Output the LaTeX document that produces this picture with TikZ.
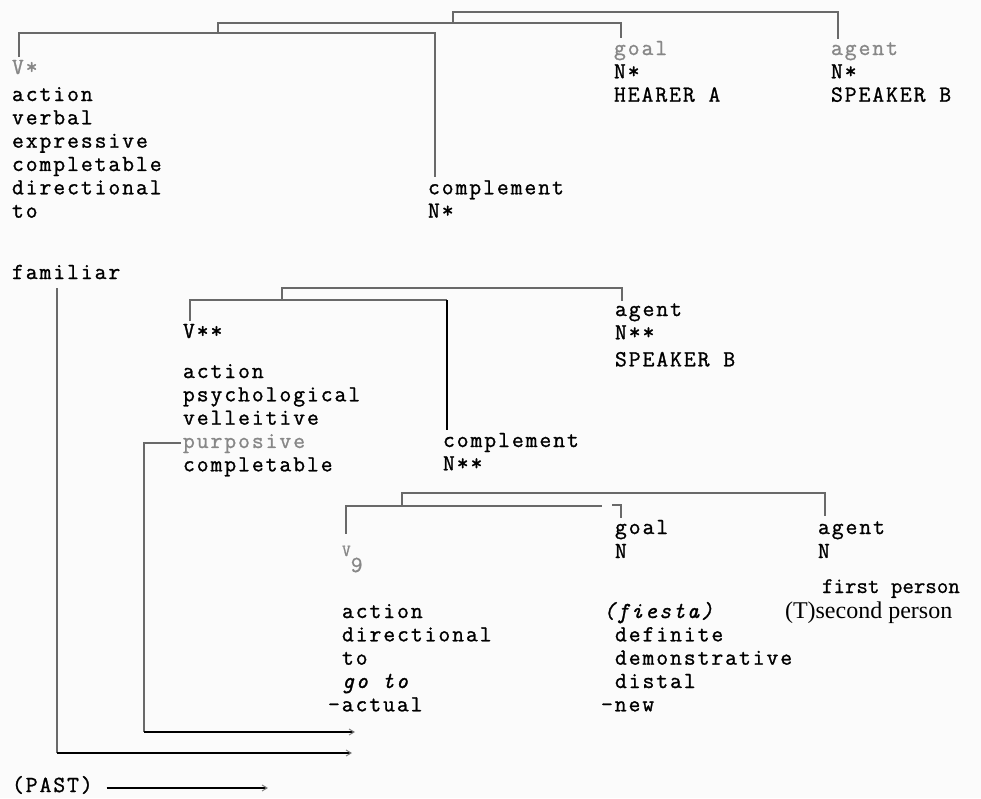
\documentclass[tikz,border=0pt]{standalone}
\usepackage{fontspec}
\newfontfamily\twfont{Latin Modern Mono}[FakeBold=1.1,LetterSpace=8.4]
\newfontfamily\twplain{Latin Modern Mono}[FakeBold=0.8]
\newfontfamily\serfont{Liberation Serif}
\usetikzlibrary{arrows.meta,calc}
\definecolor{inkgray}{RGB}{135,135,135}
\definecolor{linegray}{RGB}{105,105,105}
\definecolor{paper}{RGB}{251,251,251}
\newcommand\sstar{*}
\newcommand\topstrut{\rule{0pt}{20pt}}
\begin{document}
\setlength{\lineskiplimit}{-50pt}%
\begin{tikzpicture}[x=1pt,y=-1pt,
  col/.style={anchor=north west,inner sep=0pt,outer sep=0pt,align=left,
    font=\twfont\fontsize{23}{23.33}\selectfont,text=black},
  tt/.style={anchor=base west,inner sep=0pt,outer sep=0pt,font=\twfont\fontsize{23}{23.33}\selectfont,text=black},
  br/.style={draw=linegray,line width=1.4pt},
  vl/.style={draw=linegray,line width=1.3pt},
  arr/.style={draw=black,line width=1.6pt,-{Straight Barb[length=5pt,width=6pt,color=gray,line width=1pt]}}]
\useasboundingbox[fill=paper] (0,0) rectangle (981,798);

% ---------- top tree ----------
\node[col] (colA) at (12,54) {\topstrut\textcolor{inkgray}{V\sstar}\\[3.67pt]action\\verbal\\expressive\\completable\\directional\\to};
\node[tt] (famil) at (12,279) {familiar};
\node[col] (cmpA) at (428,174.3) {\topstrut complement\\N\sstar};
\node[col] (goalA) at (614,35) {\topstrut\textcolor{inkgray}{goal}\\N\sstar\\HEARER A};
\node[col] (agentA) at (831,35) {\topstrut\textcolor{inkgray}{agent}\\N\sstar\\SPEAKER B};

\coordinate (r1) at (200,33);
\draw[br] ([xshift=7pt,yshift=-3pt]colA.north west) |- (r1) -| ([xshift=7pt,yshift=-3pt]cmpA.north west);
\coordinate (j2) at (218,33);
\coordinate (r2) at (400,23);
\draw[br] (j2) |- (r2) -| ([xshift=7pt,yshift=-3pt]goalA.north west);
\coordinate (j3) at (453,23);
\coordinate (r3) at (600,12);
\draw[br] (j3) |- (r3) -| ([xshift=7pt,yshift=-4pt]agentA.north west);

% ---------- middle tree ----------
\node[col] (colB) at (183,318) {\topstrut V\sstar\sstar\\[16.67pt]action\\psychological\\velleitive\\\textcolor{inkgray}{purposive}\\completable};
\node[col] (cmpB) at (443,427) {\topstrut complement\\N\sstar\sstar};
\node[col] (agentB) at (615,296) {\topstrut agent\\N\sstar\sstar\\[3.67pt]SPEAKER B};

\coordinate (m1e) at (447,300);
\draw[br] ([xshift=7pt,yshift=-3pt]colB.north west) |- (m1e);
\draw[draw=black,line width=1.8pt] (m1e) -- ([xshift=4pt,yshift=-3pt]cmpB.north west);
\coordinate (j4) at (282,300);
\coordinate (r4) at (450,288);
\draw[br] (j4) |- (r4) -| ([xshift=7pt,yshift=-5pt]agentB.north west);

% ---------- bottom tree ----------
\node[tt,text=inkgray] (vnine) at (342,556) {{\fontsize{17}{17}\selectfont V}\raisebox{-16pt}{9}};
\node[col] (goalC) at (615,514) {\topstrut goal\\[0.67pt]N};
\node[col] (agentC) at (818,514) {\topstrut agent\\[0.67pt]N};
\node[tt,font=\twplain\fontsize{22.3}{22.3}\selectfont] (first) at (822,593) {first person};
\node[tt,font=\serfont\fontsize{24}{24}\selectfont] (second) at (785,618) {(T)second person};
\node[col] (colC) at (328,598) {\topstrut\hspace*{14pt}action\\\hspace*{14pt}directional\\\hspace*{14pt}to\\\hspace*{14pt}\textit{go to}\\-actual};
\node[col] (colD) at (601,598) {\topstrut\hspace*{2pt}\textit{(fiesta)}\\\hspace*{14pt}definite\\\hspace*{14pt}demonstrative\\\hspace*{14pt}distal\\-new};

\coordinate (b1e) at (602,506);
\draw[br] ([xshift=4pt,yshift=12pt]vnine.north west) |- (b1e);
\coordinate (hk) at (612,505);
\draw[br] (hk) -| ([xshift=6pt,yshift=-4pt]goalC.north west);
\coordinate (j5) at (402,506);
\coordinate (r5) at (600,493);
\draw[br] (j5) |- (r5) -| ([xshift=7pt,yshift=-2pt]agentC.north west);

% ---------- arrows ----------
\coordinate (fc) at (57,753);
\coordinate (fe) at (352,753);
\draw[vl] ([xshift=45pt,yshift=-9pt]famil.base west) -- (fc);
\draw[arr] (fc) -- (fe);
\coordinate (purpw) at ([xshift=-2pt,yshift=-125pt]colB.north west);
\coordinate (pc) at (144,732);
\coordinate (pe) at (355,732);
\draw[vl] (purpw) -| (pc);
\draw[arr] (pc) -- (pe);
\node[tt] (past) at (12,792) {(PAST)};
\coordinate (pend) at (268,0);
\draw[arr] ([xshift=14pt,yshift=-3pt]past.east) -- ([yshift=-3pt]past.east -| pend);
\end{tikzpicture}
\end{document}
